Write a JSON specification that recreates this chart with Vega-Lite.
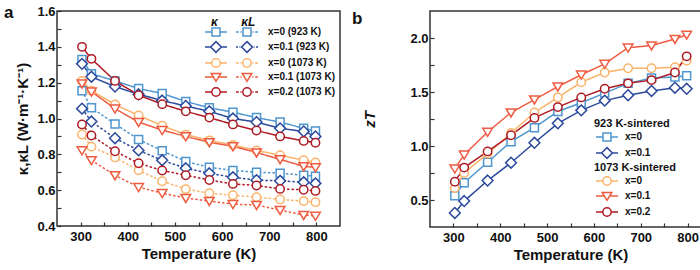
{
"$schema": "https://vega.github.io/schema/vega-lite/v6.json",
"padding": {"left": 3, "top": 3, "right": 2, "bottom": 3},
"spacing": -8,
"resolve": {"scale": {"color": "independent", "stroke": "independent", "shape": "independent", "strokeDash": "independent"}, "legend": {"stroke": "independent", "shape": "independent"}},
"datasets": {
"ka": [
{"s":"x=0 (923 K)","k":"κ","T":303,"v":1.33},{"s":"x=0 (923 K)","k":"κ","T":323,"v":1.25},{"s":"x=0 (923 K)","k":"κ","T":373,"v":1.21},{"s":"x=0 (923 K)","k":"κ","T":423,"v":1.167},{"s":"x=0 (923 K)","k":"κ","T":473,"v":1.14},{"s":"x=0 (923 K)","k":"κ","T":523,"v":1.095},{"s":"x=0 (923 K)","k":"κ","T":573,"v":1.06},{"s":"x=0 (923 K)","k":"κ","T":623,"v":1.035},{"s":"x=0 (923 K)","k":"κ","T":673,"v":1.005},{"s":"x=0 (923 K)","k":"κ","T":723,"v":0.98},{"s":"x=0 (923 K)","k":"κ","T":773,"v":0.945},{"s":"x=0 (923 K)","k":"κ","T":798,"v":0.93},
{"s":"x=0.1 (923 K)","k":"κ","T":303,"v":1.305},{"s":"x=0.1 (923 K)","k":"κ","T":323,"v":1.233},{"s":"x=0.1 (923 K)","k":"κ","T":373,"v":1.178},{"s":"x=0.1 (923 K)","k":"κ","T":423,"v":1.135},{"s":"x=0.1 (923 K)","k":"κ","T":473,"v":1.1},{"s":"x=0.1 (923 K)","k":"κ","T":523,"v":1.07},{"s":"x=0.1 (923 K)","k":"κ","T":573,"v":1.04},{"s":"x=0.1 (923 K)","k":"κ","T":623,"v":1.0},{"s":"x=0.1 (923 K)","k":"κ","T":673,"v":0.98},{"s":"x=0.1 (923 K)","k":"κ","T":723,"v":0.945},{"s":"x=0.1 (923 K)","k":"κ","T":773,"v":0.928},{"s":"x=0.1 (923 K)","k":"κ","T":798,"v":0.9},
{"s":"x=0 (1073 K)","k":"κ","T":303,"v":1.21},{"s":"x=0 (1073 K)","k":"κ","T":323,"v":1.155},{"s":"x=0 (1073 K)","k":"κ","T":373,"v":1.078},{"s":"x=0 (1073 K)","k":"κ","T":423,"v":1.017},{"s":"x=0 (1073 K)","k":"κ","T":473,"v":0.96},{"s":"x=0 (1073 K)","k":"κ","T":523,"v":0.91},{"s":"x=0 (1073 K)","k":"κ","T":573,"v":0.878},{"s":"x=0 (1073 K)","k":"κ","T":623,"v":0.852},{"s":"x=0 (1073 K)","k":"κ","T":673,"v":0.822},{"s":"x=0 (1073 K)","k":"κ","T":723,"v":0.795},{"s":"x=0 (1073 K)","k":"κ","T":773,"v":0.767},{"s":"x=0 (1073 K)","k":"κ","T":798,"v":0.755},
{"s":"x=0.1 (1073 K)","k":"κ","T":303,"v":1.195},{"s":"x=0.1 (1073 K)","k":"κ","T":323,"v":1.15},{"s":"x=0.1 (1073 K)","k":"κ","T":373,"v":1.055},{"s":"x=0.1 (1073 K)","k":"κ","T":423,"v":0.98},{"s":"x=0.1 (1073 K)","k":"κ","T":473,"v":0.935},{"s":"x=0.1 (1073 K)","k":"κ","T":523,"v":0.9},{"s":"x=0.1 (1073 K)","k":"κ","T":573,"v":0.867},{"s":"x=0.1 (1073 K)","k":"κ","T":623,"v":0.845},{"s":"x=0.1 (1073 K)","k":"κ","T":673,"v":0.81},{"s":"x=0.1 (1073 K)","k":"κ","T":723,"v":0.772},{"s":"x=0.1 (1073 K)","k":"κ","T":773,"v":0.733},{"s":"x=0.1 (1073 K)","k":"κ","T":798,"v":0.727},
{"s":"x=0.2 (1073 K)","k":"κ","T":303,"v":1.4},{"s":"x=0.2 (1073 K)","k":"κ","T":323,"v":1.333},{"s":"x=0.2 (1073 K)","k":"κ","T":373,"v":1.21},{"s":"x=0.2 (1073 K)","k":"κ","T":423,"v":1.13},{"s":"x=0.2 (1073 K)","k":"κ","T":473,"v":1.08},{"s":"x=0.2 (1073 K)","k":"κ","T":523,"v":1.04},{"s":"x=0.2 (1073 K)","k":"κ","T":573,"v":1.005},{"s":"x=0.2 (1073 K)","k":"κ","T":623,"v":0.967},{"s":"x=0.2 (1073 K)","k":"κ","T":673,"v":0.933},{"s":"x=0.2 (1073 K)","k":"κ","T":723,"v":0.9},{"s":"x=0.2 (1073 K)","k":"κ","T":773,"v":0.875},{"s":"x=0.2 (1073 K)","k":"κ","T":798,"v":0.865},
{"s":"x=0 (923 K)","k":"κL","T":303,"v":1.155},{"s":"x=0 (923 K)","k":"κL","T":323,"v":1.06},{"s":"x=0 (923 K)","k":"κL","T":373,"v":0.97},{"s":"x=0 (923 K)","k":"κL","T":423,"v":0.883},{"s":"x=0 (923 K)","k":"κL","T":473,"v":0.82},{"s":"x=0 (923 K)","k":"κL","T":523,"v":0.76},{"s":"x=0 (923 K)","k":"κL","T":573,"v":0.728},{"s":"x=0 (923 K)","k":"κL","T":623,"v":0.71},{"s":"x=0 (923 K)","k":"κL","T":673,"v":0.7},{"s":"x=0 (923 K)","k":"κL","T":723,"v":0.695},{"s":"x=0 (923 K)","k":"κL","T":773,"v":0.683},{"s":"x=0 (923 K)","k":"κL","T":798,"v":0.678},
{"s":"x=0.1 (923 K)","k":"κL","T":303,"v":1.055},{"s":"x=0.1 (923 K)","k":"κL","T":323,"v":0.983},{"s":"x=0.1 (923 K)","k":"κL","T":373,"v":0.89},{"s":"x=0.1 (923 K)","k":"κL","T":423,"v":0.822},{"s":"x=0.1 (923 K)","k":"κL","T":473,"v":0.767},{"s":"x=0.1 (923 K)","k":"κL","T":523,"v":0.722},{"s":"x=0.1 (923 K)","k":"κL","T":573,"v":0.694},{"s":"x=0.1 (923 K)","k":"κL","T":623,"v":0.672},{"s":"x=0.1 (923 K)","k":"κL","T":673,"v":0.656},{"s":"x=0.1 (923 K)","k":"κL","T":723,"v":0.652},{"s":"x=0.1 (923 K)","k":"κL","T":773,"v":0.644},{"s":"x=0.1 (923 K)","k":"κL","T":798,"v":0.638},
{"s":"x=0 (1073 K)","k":"κL","T":303,"v":0.911},{"s":"x=0 (1073 K)","k":"κL","T":323,"v":0.843},{"s":"x=0 (1073 K)","k":"κL","T":373,"v":0.783},{"s":"x=0 (1073 K)","k":"κL","T":423,"v":0.711},{"s":"x=0 (1073 K)","k":"κL","T":473,"v":0.65},{"s":"x=0 (1073 K)","k":"κL","T":523,"v":0.606},{"s":"x=0 (1073 K)","k":"κL","T":573,"v":0.583},{"s":"x=0 (1073 K)","k":"κL","T":623,"v":0.572},{"s":"x=0 (1073 K)","k":"κL","T":673,"v":0.561},{"s":"x=0 (1073 K)","k":"κL","T":723,"v":0.548},{"s":"x=0 (1073 K)","k":"κL","T":773,"v":0.539},{"s":"x=0 (1073 K)","k":"κL","T":798,"v":0.533},
{"s":"x=0.1 (1073 K)","k":"κL","T":303,"v":0.822},{"s":"x=0.1 (1073 K)","k":"κL","T":323,"v":0.767},{"s":"x=0.1 (1073 K)","k":"κL","T":373,"v":0.683},{"s":"x=0.1 (1073 K)","k":"κL","T":423,"v":0.617},{"s":"x=0.1 (1073 K)","k":"κL","T":473,"v":0.583},{"s":"x=0.1 (1073 K)","k":"κL","T":523,"v":0.556},{"s":"x=0.1 (1073 K)","k":"κL","T":573,"v":0.539},{"s":"x=0.1 (1073 K)","k":"κL","T":623,"v":0.522},{"s":"x=0.1 (1073 K)","k":"κL","T":673,"v":0.517},{"s":"x=0.1 (1073 K)","k":"κL","T":723,"v":0.489},{"s":"x=0.1 (1073 K)","k":"κL","T":773,"v":0.461},{"s":"x=0.1 (1073 K)","k":"κL","T":798,"v":0.456},
{"s":"x=0.2 (1073 K)","k":"κL","T":303,"v":0.967},{"s":"x=0.2 (1073 K)","k":"κL","T":323,"v":0.905},{"s":"x=0.2 (1073 K)","k":"κL","T":373,"v":0.817},{"s":"x=0.2 (1073 K)","k":"κL","T":423,"v":0.75},{"s":"x=0.2 (1073 K)","k":"κL","T":473,"v":0.71},{"s":"x=0.2 (1073 K)","k":"κL","T":523,"v":0.683},{"s":"x=0.2 (1073 K)","k":"κL","T":573,"v":0.657},{"s":"x=0.2 (1073 K)","k":"κL","T":623,"v":0.635},{"s":"x=0.2 (1073 K)","k":"κL","T":673,"v":0.626},{"s":"x=0.2 (1073 K)","k":"κL","T":723,"v":0.607},{"s":"x=0.2 (1073 K)","k":"κL","T":773,"v":0.602},{"s":"x=0.2 (1073 K)","k":"κL","T":798,"v":0.596}
],
"zt": [
{"s":"x=0 (923 K)","g":923,"T":303,"v":0.54},{"s":"x=0 (923 K)","g":923,"T":323,"v":0.66},{"s":"x=0 (923 K)","g":923,"T":373,"v":0.85},{"s":"x=0 (923 K)","g":923,"T":423,"v":1.04},{"s":"x=0 (923 K)","g":923,"T":473,"v":1.17},{"s":"x=0 (923 K)","g":923,"T":523,"v":1.32},{"s":"x=0 (923 K)","g":923,"T":573,"v":1.4},{"s":"x=0 (923 K)","g":923,"T":623,"v":1.49},{"s":"x=0 (923 K)","g":923,"T":673,"v":1.58},{"s":"x=0 (923 K)","g":923,"T":723,"v":1.63},{"s":"x=0 (923 K)","g":923,"T":773,"v":1.64},{"s":"x=0 (923 K)","g":923,"T":798,"v":1.65},
{"s":"x=0.1 (923 K)","g":923,"T":303,"v":0.38},{"s":"x=0.1 (923 K)","g":923,"T":323,"v":0.49},{"s":"x=0.1 (923 K)","g":923,"T":373,"v":0.68},{"s":"x=0.1 (923 K)","g":923,"T":423,"v":0.845},{"s":"x=0.1 (923 K)","g":923,"T":473,"v":1.03},{"s":"x=0.1 (923 K)","g":923,"T":523,"v":1.21},{"s":"x=0.1 (923 K)","g":923,"T":573,"v":1.33},{"s":"x=0.1 (923 K)","g":923,"T":623,"v":1.42},{"s":"x=0.1 (923 K)","g":923,"T":673,"v":1.47},{"s":"x=0.1 (923 K)","g":923,"T":723,"v":1.51},{"s":"x=0.1 (923 K)","g":923,"T":773,"v":1.54},{"s":"x=0.1 (923 K)","g":923,"T":798,"v":1.53},
{"s":"x=0 (1073 K)","g":1073,"T":303,"v":0.61},{"s":"x=0 (1073 K)","g":1073,"T":323,"v":0.75},{"s":"x=0 (1073 K)","g":1073,"T":373,"v":0.93},{"s":"x=0 (1073 K)","g":1073,"T":423,"v":1.12},{"s":"x=0 (1073 K)","g":1073,"T":473,"v":1.31},{"s":"x=0 (1073 K)","g":1073,"T":523,"v":1.45},{"s":"x=0 (1073 K)","g":1073,"T":573,"v":1.59},{"s":"x=0 (1073 K)","g":1073,"T":623,"v":1.68},{"s":"x=0 (1073 K)","g":1073,"T":673,"v":1.72},{"s":"x=0 (1073 K)","g":1073,"T":723,"v":1.72},{"s":"x=0 (1073 K)","g":1073,"T":773,"v":1.73},{"s":"x=0 (1073 K)","g":1073,"T":798,"v":1.79},
{"s":"x=0.1 (1073 K)","g":1073,"T":303,"v":0.79},{"s":"x=0.1 (1073 K)","g":1073,"T":323,"v":0.92},{"s":"x=0.1 (1073 K)","g":1073,"T":373,"v":1.13},{"s":"x=0.1 (1073 K)","g":1073,"T":423,"v":1.31},{"s":"x=0.1 (1073 K)","g":1073,"T":473,"v":1.43},{"s":"x=0.1 (1073 K)","g":1073,"T":523,"v":1.55},{"s":"x=0.1 (1073 K)","g":1073,"T":573,"v":1.66},{"s":"x=0.1 (1073 K)","g":1073,"T":623,"v":1.76},{"s":"x=0.1 (1073 K)","g":1073,"T":673,"v":1.91},{"s":"x=0.1 (1073 K)","g":1073,"T":723,"v":1.93},{"s":"x=0.1 (1073 K)","g":1073,"T":773,"v":1.99},{"s":"x=0.1 (1073 K)","g":1073,"T":798,"v":2.03},
{"s":"x=0.2 (1073 K)","g":1073,"T":303,"v":0.67},{"s":"x=0.2 (1073 K)","g":1073,"T":323,"v":0.8},{"s":"x=0.2 (1073 K)","g":1073,"T":373,"v":0.95},{"s":"x=0.2 (1073 K)","g":1073,"T":423,"v":1.1},{"s":"x=0.2 (1073 K)","g":1073,"T":473,"v":1.26},{"s":"x=0.2 (1073 K)","g":1073,"T":523,"v":1.36},{"s":"x=0.2 (1073 K)","g":1073,"T":573,"v":1.45},{"s":"x=0.2 (1073 K)","g":1073,"T":623,"v":1.53},{"s":"x=0.2 (1073 K)","g":1073,"T":673,"v":1.58},{"s":"x=0.2 (1073 K)","g":1073,"T":723,"v":1.61},{"s":"x=0.2 (1073 K)","g":1073,"T":773,"v":1.68},{"s":"x=0.2 (1073 K)","g":1073,"T":798,"v":1.83}
]
},
"hconcat": [
{
"width": 283, "height": 215,
"title": {"text": "a", "anchor": "start", "frame": "bounds", "fontSize": 17, "fontWeight": "bold", "offset": -17, "dx": -12},
"data": {"name": "ka"},
"encoding": {
  "x": {"field": "T", "type": "quantitative", "scale": {"domain": [250, 850], "nice": false, "zero": false},
        "axis": {"values": [300,350,400,450,500,550,600,650,700,750,800], "labelOverlap": false, "labelExpr": "datum.value % 100 == 0 ? datum.label : ''", "title": "Temperature (K)"}},
  "y": {"field": "v", "type": "quantitative", "scale": {"domain": [0.4, 1.6], "nice": false, "zero": false},
        "axis": {"values": [0.4,0.5,0.6,0.7,0.8,0.9,1.0,1.1,1.2,1.3,1.4,1.5,1.6], "labelOverlap": false, "labelExpr": "round(datum.value*10) % 2 == 0 ? format(datum.value, '.1f') : ''", "title": "κ,κL (W·m⁻¹·K⁻¹)"}},
  "stroke": {"field": "s", "type": "nominal",
            "scale": {"domain": ["x=0 (923 K)","x=0.1 (923 K)","x=0 (1073 K)","x=0.1 (1073 K)","x=0.2 (1073 K)"], "range": ["#4E96CF","#2C4A9C","#FBB36B","#EE5B41","#AE1B25"]},
            "legend": {"title": "κ\u00a0\u00a0\u00a0\u00a0\u00a0\u00a0\u00a0κL", "orient": "none", "legendX": 154, "legendY": 6, "titleFontStyle": "italic", "titleFontSize": 12, "titlePadding": -2, "symbolOffset": 0, "labelOffset": 47, "rowPadding": -1, "symbolOpacity": 1}}
},
"layer": [
{"mark": {"type": "line", "strokeWidth": 1.5},
 "encoding": {"strokeDash": {"field": "k", "type": "nominal", "legend": null, "scale": {"domain": ["κ","κL"], "range": [[1,0],[2.5,2]]}}}},
{"transform": [{"filter": {"field": "s", "equal": "x=0 (923 K)"}}], "mark": {"type": "point", "shape": "M-1,-1H1V1H-1Z", "filled": true, "fill": "white", "size": 64, "strokeWidth": 1.5, "opacity": 1}},
{"transform": [{"filter": {"field": "s", "equal": "x=0.1 (923 K)"}}], "mark": {"type": "point", "shape": "M0,-1.35L1.35,0L0,1.35L-1.35,0Z", "filled": true, "fill": "white", "size": 64, "strokeWidth": 1.5, "opacity": 1}},
{"transform": [{"filter": {"field": "s", "equal": "x=0 (1073 K)"}}], "mark": {"type": "point", "shape": "M1.05,0A1.05,1.05 0 1,1 -1.05,0A1.05,1.05 0 1,1 1.05,0Z", "filled": true, "fill": "white", "size": 64, "strokeWidth": 1.5, "opacity": 1}},
{"transform": [{"filter": {"field": "s", "equal": "x=0.1 (1073 K)"}}], "mark": {"type": "point", "shape": "M-1.2,-0.9H1.2L0,1.1Z", "filled": true, "fill": "white", "size": 64, "strokeWidth": 1.5, "opacity": 1}},
{"transform": [{"filter": {"field": "s", "equal": "x=0.2 (1073 K)"}}], "mark": {"type": "point", "shape": "M1.05,0A1.05,1.05 0 1,1 -1.05,0A1.05,1.05 0 1,1 1.05,0Z", "filled": true, "fill": "white", "size": 64, "strokeWidth": 1.5, "opacity": 1}},
{"mark": {"type": "point", "filled": true, "fill": "white", "size": 64, "strokeWidth": 1.5, "opacity": 0},
 "encoding": {
  "shape": {"field": "s", "type": "nominal",
            "scale": {"domain": ["x=0 (923 K)","x=0.1 (923 K)","x=0 (1073 K)","x=0.1 (1073 K)","x=0.2 (1073 K)"], "range": ["M-2.75,0H-1M1,0H2.75M-1,-1H1V1H-1ZM5,0H5.7M6.1,0H6.4M6.75,-1H8.75V1H6.75ZM9.1,0H9.4M9.8,0H10.5","M-2.75,0H-1.35M1.35,0H2.75M0,-1.35L1.35,0L0,1.35L-1.35,0ZM5,0H5.5M5.85,0H6.1M7.75,-1.35L9.1,0L7.75,1.35L6.4,0ZM9.4,0H9.65M10,0H10.5","M-2.75,0H-1.05M1.05,0H2.75M1.05,0A1.05,1.05 0 1,1 -1.05,0A1.05,1.05 0 1,1 1.05,0ZM5,0H5.7M6.1,0H6.4M8.8,0A1.05,1.05 0 1,1 6.7,0A1.05,1.05 0 1,1 8.8,0ZM9.1,0H9.4M9.8,0H10.5","M-2.75,0H-0.66M0.66,0H2.75M-1.2,-0.9H1.2L0,1.1ZM5,0H5.7M6.1,0H6.4M6.55,-0.9H8.95L7.75,1.1ZM9.1,0H9.4M9.8,0H10.5","M-2.75,0H-1.05M1.05,0H2.75M1.05,0A1.05,1.05 0 1,1 -1.05,0A1.05,1.05 0 1,1 1.05,0ZM5,0H5.7M6.1,0H6.4M8.8,0A1.05,1.05 0 1,1 6.7,0A1.05,1.05 0 1,1 8.8,0ZM9.1,0H9.4M9.8,0H10.5"]},
            "legend": {"title": "κ\u00a0\u00a0\u00a0\u00a0\u00a0\u00a0\u00a0κL", "orient": "none", "legendX": 154, "legendY": 6, "titleFontStyle": "italic", "titleFontSize": 12, "titlePadding": -2, "symbolOffset": 0, "labelOffset": 47, "rowPadding": -1, "symbolOpacity": 1}}
 }}
]
},
{
"width": 281, "height": 216,
"title": {"text": "b", "anchor": "start", "frame": "bounds", "fontSize": 17, "fontWeight": "bold", "offset": -17, "dx": -11},
"data": {"name": "zt"},
"encoding": {
  "x": {"field": "T", "type": "quantitative", "scale": {"domain": [250, 850], "nice": false, "zero": false},
        "axis": {"values": [300,350,400,450,500,550,600,650,700,750,800], "labelOverlap": false, "labelExpr": "datum.value % 100 == 0 ? datum.label : ''", "title": "Temperature (K)"}},
  "y": {"field": "v", "type": "quantitative", "scale": {"domain": [0.25, 2.25], "nice": false, "zero": false},
        "axis": {"values": [0.5,0.75,1.0,1.25,1.5,1.75,2.0], "labelOverlap": false, "labelExpr": "round(datum.value*100) % 50 == 0 ? format(datum.value, '.1f') : ''", "title": "zT", "titleFontStyle": "italic", "titlePadding": 32}}
},
"layer": [
{"transform": [{"filter": {"field": "g", "equal": 923}}],
 "encoding": {"stroke": {"field": "s", "type": "nominal", "scale": {"domain": ["x=0 (923 K)","x=0.1 (923 K)"], "range": ["#4E96CF","#2C4A9C"]},
     "legend": {"title": "923 K-sintered", "orient": "none", "legendX": 164, "legendY": 107, "symbolOffset": 8, "labelOffset": 13, "rowPadding": 0, "titlePadding": 3, "symbolOpacity": 1, "labelExpr": "split(datum.label, ' (')[0]"}}},
 "layer": [
  {"mark": {"type": "line", "strokeWidth": 1.5}},
  {"transform": [{"filter": {"field": "s", "equal": "x=0 (923 K)"}}], "mark": {"type": "point", "shape": "M-1,-1H1V1H-1Z", "filled": true, "fill": "white", "size": 64, "strokeWidth": 1.5, "opacity": 1}},
  {"transform": [{"filter": {"field": "s", "equal": "x=0.1 (923 K)"}}], "mark": {"type": "point", "shape": "M0,-1.35L1.35,0L0,1.35L-1.35,0Z", "filled": true, "fill": "white", "size": 64, "strokeWidth": 1.5, "opacity": 1}},
  {"mark": {"type": "point", "filled": true, "fill": "white", "size": 64, "strokeWidth": 1.5, "opacity": 0},
   "encoding": {"shape": {"field": "s", "type": "nominal", "scale": {"domain": ["x=0 (923 K)","x=0.1 (923 K)"], "range": ["M-2.75,0H-1M1,0H2.75M-1,-1H1V1H-1Z","M-2.75,0H-1.35M1.35,0H2.75M0,-1.35L1.35,0L0,1.35L-1.35,0Z"]},
     "legend": {"title": "923 K-sintered", "orient": "none", "legendX": 164, "legendY": 107, "symbolOffset": 8, "labelOffset": 13, "rowPadding": 0, "titlePadding": 3, "symbolOpacity": 1, "labelExpr": "split(datum.label, ' (')[0]"}}}}
 ]},
{"transform": [{"filter": {"field": "g", "equal": 1073}}],
 "encoding": {"stroke": {"field": "s", "type": "nominal", "scale": {"domain": ["x=0 (1073 K)","x=0.1 (1073 K)","x=0.2 (1073 K)"], "range": ["#FBB36B","#EE5B41","#AE1B25"]},
     "legend": {"title": "1073 K-sintered", "orient": "none", "legendX": 164, "legendY": 151, "symbolOffset": 8, "labelOffset": 13, "rowPadding": 0, "titlePadding": 3, "symbolOpacity": 1, "labelExpr": "split(datum.label, ' (')[0]"}}},
 "layer": [
  {"mark": {"type": "line", "strokeWidth": 1.5}},
  {"transform": [{"filter": {"field": "s", "equal": "x=0 (1073 K)"}}], "mark": {"type": "point", "shape": "M1.05,0A1.05,1.05 0 1,1 -1.05,0A1.05,1.05 0 1,1 1.05,0Z", "filled": true, "fill": "white", "size": 64, "strokeWidth": 1.5, "opacity": 1}},
  {"transform": [{"filter": {"field": "s", "equal": "x=0.1 (1073 K)"}}], "mark": {"type": "point", "shape": "M-1.2,-0.9H1.2L0,1.1Z", "filled": true, "fill": "white", "size": 64, "strokeWidth": 1.5, "opacity": 1}},
  {"transform": [{"filter": {"field": "s", "equal": "x=0.2 (1073 K)"}}], "mark": {"type": "point", "shape": "M1.05,0A1.05,1.05 0 1,1 -1.05,0A1.05,1.05 0 1,1 1.05,0Z", "filled": true, "fill": "white", "size": 64, "strokeWidth": 1.5, "opacity": 1}},
  {"mark": {"type": "point", "filled": true, "fill": "white", "size": 64, "strokeWidth": 1.5, "opacity": 0},
   "encoding": {"shape": {"field": "s", "type": "nominal", "scale": {"domain": ["x=0 (1073 K)","x=0.1 (1073 K)","x=0.2 (1073 K)"], "range": ["M-2.75,0H-1.05M1.05,0H2.75M1.05,0A1.05,1.05 0 1,1 -1.05,0A1.05,1.05 0 1,1 1.05,0Z","M-2.75,0H-0.66M0.66,0H2.75M-1.2,-0.9H1.2L0,1.1Z","M-2.75,0H-1.05M1.05,0H2.75M1.05,0A1.05,1.05 0 1,1 -1.05,0A1.05,1.05 0 1,1 1.05,0Z"]},
     "legend": {"title": "1073 K-sintered", "orient": "none", "legendX": 164, "legendY": 151, "symbolOffset": 8, "labelOffset": 13, "rowPadding": 0, "titlePadding": 3, "symbolOpacity": 1, "labelExpr": "split(datum.label, ' (')[0]"}}}}
 ]}
],
"resolve": {"scale": {"stroke": "independent", "shape": "independent"}, "legend": {"stroke": "independent", "shape": "independent"}}
}
],
"config": {
  "font": "Liberation Sans",
  "view": {"stroke": "#333333", "strokeWidth": 1.5},
  "axis": {"grid": false, "domain": false, "ticks": true, "tickColor": "#333333", "tickSize": -4, "tickWidth": 1.2, "labelPadding": 6, "labelOverlap": false,
           "labelFont": "Liberation Sans", "labelFontSize": 13, "labelFontWeight": "bold", "labelColor": "#111111",
           "titleFont": "Liberation Sans", "titleFontSize": 15, "titleFontWeight": "bold", "titleColor": "#111111", "titlePadding": 6},
  "axisX": {"labelPadding": 8, "titlePadding": 3},
  "legend": {"padding": 0, "symbolSize": 64, "symbolStrokeWidth": 1.5, "labelFont": "Liberation Sans", "labelFontSize": 10, "labelFontWeight": "bold", "labelColor": "#111111",
             "titleFont": "Liberation Sans", "titleFontSize": 11, "titleFontWeight": "bold", "titleColor": "#111111"},
  "title": {"font": "Liberation Sans", "color": "#111111"}
}
}
